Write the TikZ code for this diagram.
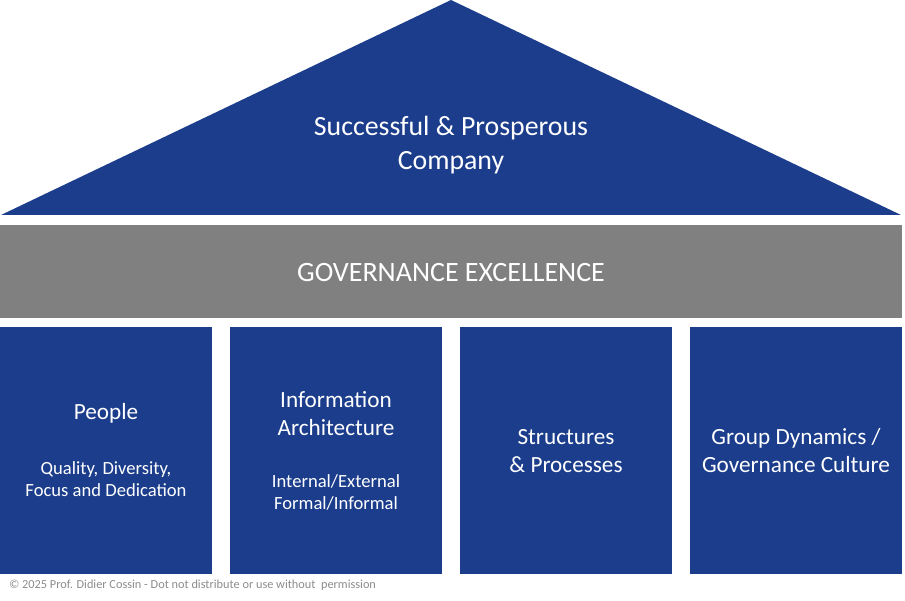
\documentclass[tikz,border=0pt]{standalone}
\usepackage{fontspec}
\setmainfont{Carlito}
\definecolor{hblue}{RGB}{27,61,139}
\definecolor{hgray}{RGB}{128,128,128}
\definecolor{ftgray}{RGB}{140,140,140}
\begin{document}
\begin{tikzpicture}[x=1pt,y=-1pt,
  blk/.style={fill=hblue,draw=none},
  wtxt/.style={text=white,align=center,inner sep=0pt},
  big/.style={font=\fontsize{27.8}{34}\selectfont},
  head/.style={font=\fontsize{23.2}{28}\selectfont},
  sub/.style={font=\fontsize{18.6}{22.5}\selectfont}]
\useasboundingbox (0,0) rectangle (905,601);
\fill[blk] (1,215) -- (451,0) -- (901,215) -- cycle;
\coordinate (roof) at (451,145);
\node[wtxt,big] (rooftext) at (roof) {Successful \& Prosperous\\Company};
\fill[hgray] (0,225) rectangle (902,318);
\node[wtxt,font=\fontsize{28}{32}\selectfont] (gov) at (451,273) {GOVERNANCE EXCELLENCE};
\fill[blk] (0,327) rectangle (212,574);
\fill[blk] (230,327) rectangle (442,574);
\fill[blk] (460,327) rectangle (672,574);
\fill[blk] (690,327) rectangle (902,574);
\node[wtxt,head] (p1) at (106,413) {People};
\node[wtxt,sub] (p1s) at (106,479) {Quality, Diversity,\\Focus and Dedication};
\node[wtxt,head] (p2) at (336,414) {Information\\Architecture};
\node[wtxt,sub] (p2s) at (336,492.5) {Internal/External\\Formal/Informal};
\node[wtxt,head] (p3) at (566,451) {Structures\\\& Processes};
\node[wtxt,head] (p4) at (796,451) {Group Dynamics /\\Governance Culture};
\node[anchor=west,inner sep=0pt,text=ftgray,font=\fontsize{12.3}{14}\selectfont] (foot) at (9,585) {\textcopyright{} 2025 Prof. Didier Cossin - Dot not distribute or use without\ \ permission};
\end{tikzpicture}
\end{document}
